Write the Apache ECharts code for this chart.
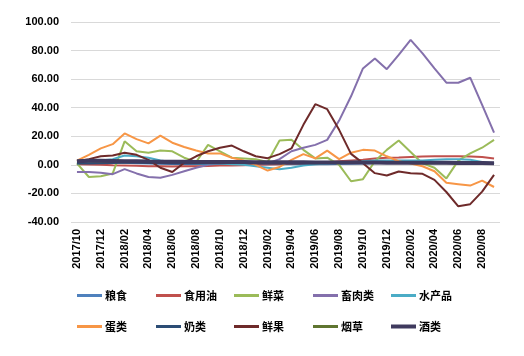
<!DOCTYPE html>
<html>
<head>
<meta charset="utf-8">
<script src="https://cdn.jsdelivr.net/npm/echarts@6/dist/echarts.min.js"></script>
<style>
html,body{margin:0;padding:0;background:#fff;}
#chart{width:524px;height:356px;}
</style>
</head>
<body>
<div id="chart"></div>
<script>
const categories = ['2017/10','2017/11','2017/12','2018/01','2018/02','2018/03','2018/04','2018/05','2018/06','2018/07','2018/08','2018/09','2018/10','2018/11','2018/12','2019/01','2019/02','2019/03','2019/04','2019/05','2019/06','2019/07','2019/08','2019/09','2019/10','2019/11','2019/12','2020/01','2020/02','2020/03','2020/04','2020/05','2020/06','2020/07','2020/08','2020/09'];
const yTicks = [-40, -20, 0, 20, 40, 60, 80, 100];

const grain   = [1.5,1.6,1.7,1.8,1.5,1.2,1,0.8,0.6,0.5,0.5,0.6,0.6,0.7,0.6,0.5,0.5,0.5,0.4,0.4,0.5,0.5,0.6,0.8,1,1.2,1.4,1.6,1.8,1.9,2,1.8,1.5,1.2,1,0.8];
const oil     = [0.5,0.2,0,-0.3,-0.5,-0.7,-1,-1,-1.2,-1,-1,-0.8,-0.5,-0.5,-0.3,0,0.3,0.5,0.8,1,1.5,2,2.5,3,3.5,4.5,5,5.2,5.5,5.8,6,6,6,5.8,5.5,4.5];
const veg     = [1,-8.5,-8,-6,16.5,9.5,8.5,10,9.5,5,2,14,9.5,5,4.5,4,2,17,17.5,10.5,4.5,5,0,-11.5,-10,2.5,10.5,17,9,1,-2,-9.5,3,8,12,17.5];
const meat    = [-5,-5,-5.5,-6.5,-3,-6,-8.5,-9,-7,-4.5,-2,0,1,1.5,1.5,1.5,1,4,9.5,12,14,17.5,31,48,67.5,74.5,67,77,87.5,78,67.5,57.5,57.5,61,42,22.5];
const aquatic = [1,2,3,4,6.5,6,5,3,2,1.5,1,1,1,0.5,0,-1,-2,-3,-2,-0.5,0.5,1,1.5,2,2.5,3,3,3,3,3,3.5,4,4,3.5,2,1];
const egg     = [3,7,11.5,14.5,22,18,15,20.5,15.5,12.5,10,8,8,5,3,0,-4,-1.5,3.5,7.5,4.5,10,4,8.5,10.5,10,6,2.5,1,-1,-4.5,-12.5,-13.5,-14.5,-11,-15.5];
const milk    = [1,1,1.2,1.3,1.5,1.5,1.3,1.2,1,1,1,1.2,1.2,1.3,1.3,1.2,1,1,1,1,1.2,1.3,1.5,1.6,1.7,1.8,1.8,1.8,1.7,1.6,1.5,1.5,1.4,1.3,1.2,1];
const fruit   = [2.5,4,6,6.5,8.5,7,3.5,-2,-5,1.5,6,9.5,12,13.5,9.5,6,4.7,7.5,11.5,28,42.5,39,24.5,7.7,1.2,-5.8,-7.5,-4.7,-5.8,-6.3,-10.5,-19,-29,-27.5,-18.7,-7];
const tobacco = [2.5,2.5,2.4,2.3,2.2,2.1,2,2,2,2,1.9,1.8,1.8,1.8,1.8,1.8,1.7,1.7,1.6,1.6,1.6,1.5,1.5,1.5,1.4,1.4,1.4,1.3,1.3,1.2,1.2,1.2,1.2,1.2,1.2,1.2];
const liquor  = [2.5,2.8,2.8,2.7,2.6,2.5,2.3,2.2,2.2,2.1,2,2,2,2,2,1.9,1.9,1.8,1.8,1.8,1.7,1.7,1.7,1.6,1.6,1.6,1.5,1.5,1.5,1.4,1.4,1.4,1.3,1.3,1.3,1.2];

const seriesNames = ['粮食','食用油','鲜菜','畜肉类','水产品','蛋类','奶类','鲜果','烟草','酒类'];
const seriesData = [grain, oil, veg, meat, aquatic, egg, milk, fruit, tobacco, liquor];
const colors = ['#4F81BD','#C0504D','#9BBB59','#8470AC','#4BACC6','#F79646','#2C4D75','#6E2A2A','#5F7530','#3F3A5E'];
const widths = [2,2,2,2,2,2,2,2,2,4];

const legendCols = [77,156,234,313,391];
const legendRows = [290,321];

const numFont = "'Liberation Sans', Arial, sans-serif";
const cjkFont = "'Noto Sans CJK SC', sans-serif";

const chart = echarts.init(document.getElementById('chart'), null, {renderer:'canvas'});

const legends = seriesNames.map((n, i) => ({
  data: [n],
  left: legendCols[i % 5],
  top: legendRows[Math.floor(i / 5)],
  padding: 0,
  itemGap: 0,
  itemWidth: 25,
  itemHeight: i === 9 ? 4 : 3,
  icon: 'rect',
  selectedMode: false,
  textStyle: {fontSize: 11, fontWeight: 'bold', color: '#000', fontFamily: cjkFont, padding: [0,0,0,-2]}
}));

const series = seriesNames.map((n, i) => ({
  name: n,
  type: 'line',
  data: seriesData[i],
  symbol: 'none',
  showSymbol: false,
  lineStyle: {width: widths[i], color: colors[i]},
  itemStyle: {color: colors[i]},
  z: i === 9 ? 5 : 2,
  animation: false
}));

chart.setOption({
  animation: false,
  backgroundColor: '#fff',
  grid: {left: 71, right: 24, top: 22, bottom: 134, containLabel: false},
  legend: legends,
  xAxis: {
    type: 'category',
    data: categories,
    boundaryGap: true,
    axisLine: {show: false},
    axisTick: {show: false},
    axisLabel: {interval: 1, rotate: 90, margin: 7, fontSize: 11, fontWeight: 'bold', color: '#000', fontFamily: numFont}
  },
  yAxis: {
    type: 'value',
    min: yTicks[0],
    max: yTicks[yTicks.length - 1],
    interval: 20,
    axisLine: {show: false},
    axisTick: {show: false},
    splitLine: {lineStyle: {color: '#D9D9D9', width: 1}},
    axisLabel: {margin: 12, fontSize: 11, fontWeight: 'bold', color: '#000', fontFamily: numFont,
      formatter: v => v.toFixed(2)}
  },
  series: series
});
</script>
</body>
</html>
